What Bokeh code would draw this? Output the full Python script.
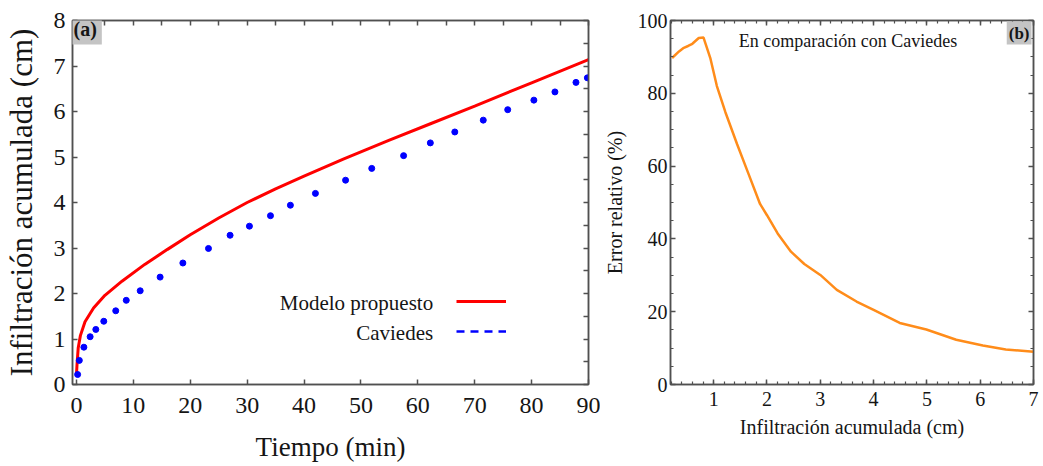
from bokeh.plotting import figure
from bokeh.layouts import row
from bokeh.models import (Range1d, LinearAxis, SingleIntervalTicker, Label,
                          Legend, LegendItem)
from bokeh.embed import file_html
from bokeh.resources import INLINE

# ---------------- data ----------------
# Panel (a): cumulative infiltration vs time
t_model = [0, 0.1, 0.3, 0.7, 1.5, 3, 5, 8, 12, 16, 20, 25, 30, 35, 40, 47,
           55, 62, 70, 80, 90]
inf_model = [0.22, 0.45, 0.80, 1.08, 1.38, 1.68, 1.96, 2.27, 2.64, 2.97, 3.29,
             3.66, 4.00, 4.30, 4.58, 4.96, 5.37, 5.72, 6.12, 6.63, 7.14]

t_caviedes = [0.2, 0.5, 1.3, 2.4, 3.4, 4.8, 6.9, 8.75, 11.2, 14.7, 18.7, 23.2,
              27.0, 30.4, 34.1, 37.6, 42.0, 47.3, 51.9, 57.5, 62.2, 66.5,
              71.5, 75.8, 80.4, 84.1, 87.8, 89.8]
inf_caviedes = [0.22, 0.53, 0.82, 1.05, 1.21, 1.39, 1.62, 1.85, 2.06, 2.36,
                2.67, 2.99, 3.28, 3.48, 3.71, 3.94, 4.20, 4.49, 4.75, 5.03,
                5.31, 5.55, 5.81, 6.04, 6.25, 6.43, 6.64, 6.74]

# Panel (b): relative error vs cumulative infiltration
inf_err = [0.22, 0.35, 0.44, 0.52, 0.60, 0.72, 0.81, 0.85, 0.94, 1.06, 1.22,
           1.44, 1.65, 1.87, 2.0, 2.2, 2.45, 2.7, 3.0, 3.31, 3.68, 4.0, 4.49,
           4.99, 5.55, 6.05, 6.48, 7.0]
rel_err = [89.7, 91.5, 92.5, 93.0, 93.6, 95.2, 95.3, 93.5, 89.5, 82.0, 74.8,
           66.0, 58.0, 49.6, 46.5, 41.5, 36.5, 33.1, 30.1, 26.0, 22.8, 20.5,
           16.9, 15.1, 12.3, 10.7, 9.6, 9.0]

FONT = "Liberation Serif"
AX = "#505050"
TXT = "#151515"


def style_axis(ax, label_size, show_labels=True):
    ax.axis_line_color = AX
    ax.axis_line_width = 1.5
    ax.major_tick_line_color = AX
    ax.major_tick_line_width = 1.5
    ax.major_tick_in = 5
    ax.major_tick_out = 0
    ax.minor_tick_line_color = AX
    ax.minor_tick_line_width = 1.2
    ax.minor_tick_in = 3
    ax.minor_tick_out = 0
    ax.major_label_text_font = FONT
    ax.major_label_text_color = TXT
    ax.axis_label_text_font = FONT
    ax.axis_label_text_font_style = "normal"
    ax.axis_label_text_color = TXT
    if show_labels:
        ax.major_label_text_font_size = label_size
    else:
        ax.major_label_text_font_size = "0px"
        ax.major_label_text_color = None
        ax.major_label_standoff = 0


# ---------------- panel (a) ----------------
p1 = figure(width=600, height=464, x_range=Range1d(-0.7, 90),
            y_range=Range1d(0, 8), output_backend="svg",
            toolbar_location=None, min_border_left=67, min_border_right=12,
            min_border_top=17, min_border_bottom=78)
p1.xgrid.visible = False
p1.ygrid.visible = False
p1.outline_line_color = AX
p1.outline_line_width = 1.5

p1.xaxis.ticker = SingleIntervalTicker(interval=10, num_minor_ticks=0)
p1.yaxis.ticker = SingleIntervalTicker(interval=1, num_minor_ticks=0)
style_axis(p1.xaxis[0], "24px")
style_axis(p1.yaxis[0], "24px")
p1.xaxis.major_label_standoff = 13
p1.yaxis.major_label_standoff = 7
p1.xaxis.axis_label = "Tiempo (min)"
p1.yaxis.axis_label = "Infiltración acumulada (cm)"
p1.xaxis.axis_label_text_font_size = "27px"
p1.yaxis.axis_label_text_font_size = "31px"
p1.xaxis.axis_label_standoff = 16
p1.yaxis.axis_label_standoff = 12

top1 = LinearAxis(ticker=SingleIntervalTicker(interval=5, num_minor_ticks=0))
style_axis(top1, "0px", show_labels=False)
p1.add_layout(top1, "above")
right1 = LinearAxis(ticker=SingleIntervalTicker(interval=0.5, num_minor_ticks=0))
style_axis(right1, "0px", show_labels=False)
p1.add_layout(right1, "right")

r_model = p1.line(t_model, inf_model, line_color="#ff0000", line_width=3)
p1.scatter(t_caviedes, inf_caviedes, size=6, fill_color="#0000ff",
           line_color="#0000ff")
# legend-only renderer (dashed style of the Caviedes key); holds no visible data
r_leg_cav = p1.line(x=[float("nan")], y=[float("nan")], line_color="#0000ff",
                    line_width=2.5, line_dash="8 6")

legend = Legend(items=[LegendItem(label=" ", renderers=[r_model]),
                       LegendItem(label=" ", renderers=[r_leg_cav])],
                location=(384, 40), glyph_width=50, glyph_height=26,
                label_height=26, label_width=0, label_standoff=0, spacing=4,
                padding=0, margin=0, border_line_color=None,
                background_fill_alpha=0, label_text_font_size="0px",
                label_text_color=None)
p1.add_layout(legend)

p1.add_layout(Label(x=62.7, y=1.80, text="Modelo propuesto", text_align="right",
                    text_baseline="middle", text_font=FONT,
                    text_font_size="21px", text_color=TXT))
p1.add_layout(Label(x=62.7, y=1.13, text="Caviedes", text_align="right",
                    text_baseline="middle", text_font=FONT,
                    text_font_size="21px", text_color=TXT))
p1.add_layout(Label(x=-0.7, y=8, text="(a)", text_align="left",
                    text_baseline="top", text_font=FONT,
                    text_font_style="bold", text_font_size="20px",
                    text_color=TXT, background_fill_color="#c4c4c4",
                    padding=5, x_offset=-4, y_offset=8))

# ---------------- panel (b) ----------------
p2 = figure(width=440, height=464, x_range=Range1d(0.19, 7),
            y_range=Range1d(0, 100), output_backend="svg",
            toolbar_location=None, min_border_left=70, min_border_right=7,
            min_border_top=20, min_border_bottom=79)
p2.xgrid.visible = False
p2.ygrid.visible = False
p2.outline_line_color = AX
p2.outline_line_width = 1.5

p2.xaxis.ticker = SingleIntervalTicker(interval=1, num_minor_ticks=5)
p2.yaxis.ticker = SingleIntervalTicker(interval=20, num_minor_ticks=4)
style_axis(p2.xaxis[0], "20px")
style_axis(p2.yaxis[0], "20px")
p2.xaxis.major_label_standoff = 7
p2.yaxis.major_label_standoff = 3
p2.xaxis.axis_label = "Infiltración acumulada (cm)"
p2.yaxis.axis_label = "Error relativo (%)"
p2.xaxis.axis_label_text_font_size = "20px"
p2.yaxis.axis_label_text_font_size = "20px"
p2.xaxis.axis_label_standoff = 7
p2.yaxis.axis_label_standoff = 9

top2 = LinearAxis(ticker=SingleIntervalTicker(interval=1, num_minor_ticks=5))
style_axis(top2, "0px", show_labels=False)
p2.add_layout(top2, "above")
right2 = LinearAxis(ticker=SingleIntervalTicker(interval=20, num_minor_ticks=4))
style_axis(right2, "0px", show_labels=False)
p2.add_layout(right2, "right")

p2.line(inf_err, rel_err, line_color="#ff8c1a", line_width=2.5)

p2.add_layout(Label(x=3.52, y=94.5, text="En comparación con Caviedes",
                    text_align="center", text_baseline="middle",
                    text_font=FONT, text_font_size="18px", text_color=TXT))
p2.add_layout(Label(x=7, y=100, text="(b)", text_align="right",
                    text_baseline="top", text_font=FONT,
                    text_font_style="bold", text_font_size="17px",
                    text_color=TXT, background_fill_color="#c4c4c4",
                    padding=2, x_offset=-2, y_offset=-1))

layout = row(p1, p2)
open("out.html", "w").write(file_html(layout, INLINE))
